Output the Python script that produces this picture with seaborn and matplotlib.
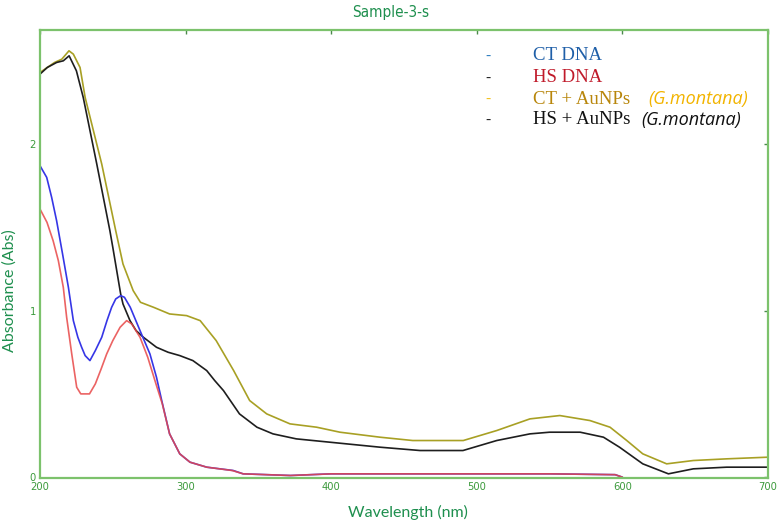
import numpy as np
import pandas as pd
import matplotlib
matplotlib.use("Agg")
import matplotlib.pyplot as plt
import seaborn as sns

# ---------------- data ----------------
ct_x = [200, 204.6, 208, 211.4, 215.5, 219.5, 222.9, 226, 228.6, 231, 234.3, 238, 242.4, 246, 249.2,
        252, 255.4, 258, 262, 268.7, 275.5, 280, 283.6, 289, 296, 303, 314.5, 332.7, 339.5, 372,
        400, 450, 500, 550, 595, 600]
ct_y = [1.87, 1.80, 1.68, 1.54, 1.34, 1.14, 0.94, 0.84, 0.78, 0.73, 0.70, 0.76, 0.84, 0.94, 1.02,
        1.07, 1.09, 1.08, 1.02, 0.88, 0.74, 0.60, 0.46, 0.26, 0.14, 0.09, 0.06, 0.04, 0.02, 0.01,
        0.02, 0.02, 0.02, 0.02, 0.015, 0.0]

hs_x = [200, 204.8, 209, 212.6, 216, 218.3, 221.8, 225.2, 228, 234, 238, 242, 245.8, 250, 255,
        259.5, 263, 268.7, 274, 280, 284, 289, 296, 303, 314.5, 332, 339.5, 372, 400, 450, 500,
        550, 595, 600]
hs_y = [1.61, 1.53, 1.42, 1.30, 1.14, 0.96, 0.74, 0.54, 0.50, 0.50, 0.56, 0.65, 0.74, 0.82, 0.90,
        0.94, 0.92, 0.84, 0.72, 0.55, 0.44, 0.26, 0.14, 0.09, 0.06, 0.04, 0.02, 0.01, 0.02, 0.02,
        0.02, 0.02, 0.015, 0.0]

ctau_x = [200, 205, 210, 215, 219.9, 222.9, 227.5, 231, 242.4, 252, 257, 264, 269, 278, 289,
          300.7, 310, 321, 333, 344, 355.7, 371.7, 390, 406, 433.5, 456, 490.7, 513.7, 536.5, 557,
          577.7, 591.5, 603, 614, 630.4, 648.7, 671.6, 700]
ctau_y = [2.43, 2.46, 2.49, 2.51, 2.56, 2.54, 2.46, 2.28, 1.88, 1.48, 1.28, 1.12, 1.05, 1.02, 0.98,
          0.97, 0.94, 0.82, 0.64, 0.46, 0.38, 0.32, 0.30, 0.27, 0.24, 0.22, 0.22, 0.28, 0.35, 0.37,
          0.34, 0.30, 0.22, 0.14, 0.08, 0.10, 0.11, 0.12]

hsau_x = [200, 205, 211.4, 216, 220, 225, 229.7, 239, 248, 250, 255.4, 257, 261.8, 266, 271, 280,
          288, 296, 305, 314.5, 320, 326, 337, 349, 360, 376, 399, 433.5, 461, 490.5, 513.7, 536.5,
          550, 571, 587, 598, 614, 631.6, 648.7, 671.6, 700]
hsau_y = [2.42, 2.46, 2.49, 2.50, 2.53, 2.44, 2.28, 1.88, 1.48, 1.38, 1.10, 1.04, 0.94, 0.88, 0.84,
          0.78, 0.75, 0.73, 0.70, 0.64, 0.58, 0.52, 0.38, 0.30, 0.26, 0.23, 0.21, 0.18, 0.16, 0.16,
          0.22, 0.26, 0.27, 0.27, 0.24, 0.18, 0.08, 0.02, 0.05, 0.06, 0.06]

x_ticks = [200, 300, 400, 500, 600, 700]
y_ticks = [0, 1, 2]

series_names = ["CT DNA", "HS DNA", "CT + AuNPs", "HS + AuNPs"]
line_colors = ["#3636e6", "#e84848", "#a8a024", "#1e1e1e"]

frames = []
for name, xs, ys in zip(series_names, [ct_x, hs_x, ctau_x, hsau_x], [ct_y, hs_y, ctau_y, hsau_y]):
    frames.append(pd.DataFrame({"wl": xs, "abs": ys, "series": name}))
df = pd.concat(frames, ignore_index=True)

# ---------------- figure ----------------
sns.set_style("white")
W, H = 777, 524
fig = plt.figure(figsize=(W / 100, H / 100), dpi=100)
ax = fig.add_axes([40 / W, 1 - 478 / H, (768 - 40) / W, (478 - 30) / H])

draw_order = ["CT + AuNPs", "HS + AuNPs", "CT DNA", "HS DNA"]
for name in draw_order:
    i = series_names.index(name)
    sub = df[df["series"] == name]
    sns.lineplot(data=sub, x="wl", y="abs", ax=ax, color=line_colors[i], lw=1.2,
                 alpha=0.85 if name == "HS DNA" else 1.0, sort=False, legend=False)

ax.set_xlim(200, 700)
ax.set_ylim(-0.005, 2.685)
ax.set_xticks(x_ticks)
ax.set_yticks(y_ticks)
ax.set_xlabel("")
ax.set_ylabel("")

spine_color = "#7cc26c"
for s in ax.spines.values():
    s.set_color(spine_color)
    s.set_linewidth(1.6)
ax.tick_params(direction="in", length=3, width=1, color="#4a8a4a", top=True, right=True,
               labelsize=8, labelcolor="#3c9a3c", pad=3)
for lab in ax.get_xticklabels() + ax.get_yticklabels():
    lab.set_family(["DejaVu Sans"])
    lab.set_fontstretch("condensed")

green = "#1e8f4e"
fig.text(391 / W, 1 - 13 / H, "Sample-3-s", ha="center", va="center", color=green,
         fontsize=11, family=["DejaVu Sans"], fontstretch="condensed")
fig.text(408 / W, 1 - 512 / H, "Wavelength (nm)", ha="center", va="center", color=green,
         fontsize=11.5, family=["Lato", "DejaVu Sans"])
fig.text(10 / W, 1 - 291 / H, "Absorbance (Abs)", ha="center", va="center", rotation=90,
         color=green, fontsize=11.5, family=["Lato", "DejaVu Sans"])

# legend drawn as text
dash_colors = ["#2e7fc0", "#222222", "#f2c21e", "#222222"]
text_colors = ["#1f5fa8", "#c01a2a", "#b8860b", "#111111"]
italic_colors = [None, None, "#f2b400", "#111111"]
italic_x = [None, None, 648, 641]
rows_y = [56, 78, 99, 120]
serif = ["Liberation Serif", "DejaVu Serif"]
for i, name in enumerate(series_names):
    yy = 1 - rows_y[i] / H
    fig.text(488 / W, yy, "-", ha="center", va="center", color=dash_colors[i], fontsize=11,
             family=serif)
    fig.text(533 / W, yy, name, ha="left", va="center", color=text_colors[i], fontsize=13.5,
             family=serif)
    if italic_colors[i] is not None:
        fig.text(italic_x[i] / W, yy, "(G.montana)", ha="left", va="center",
                 color=italic_colors[i], fontsize=13, style="italic",
                 family=["Open Sans", "DejaVu Sans"])

fig.savefig("out.png", dpi=100)
